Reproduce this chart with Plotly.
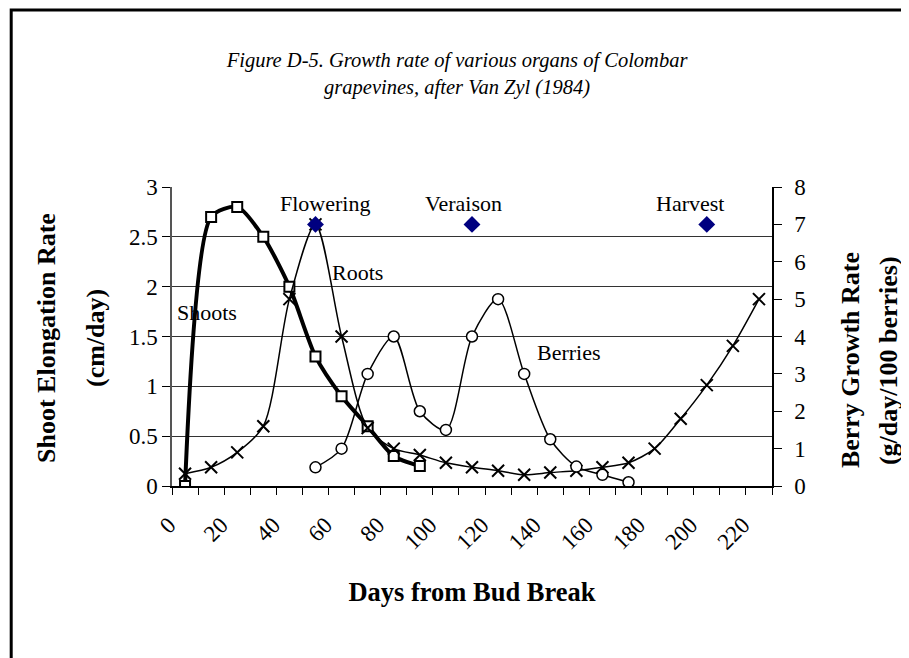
import plotly.graph_objects as go

# days from bud break (category axis, every 10 days)
days = list(range(0, 230, 10))
x_labels = [0, 20, 40, 60, 80, 100, 120, 140, 160, 180, 200, 220]

# shoot elongation rate (cm/day), left axis
shoot_days = [0, 10, 20, 30, 40, 50, 60, 70, 80, 90]
shoots = [0, 2.7, 2.8, 2.5, 2.0, 1.3, 0.9, 0.6, 0.3, 0.2]

# roots, right axis
roots = [0.33, 0.5, 0.9, 1.6, 5.0, 7.0, 4.0, 1.55, 1.0, 0.83, 0.62, 0.5, 0.41,
         0.3, 0.36, 0.41, 0.5, 0.62, 1.0, 1.8, 2.7, 3.75, 5.0]

# berry growth rate (g/day/100 berries), right axis
berry_days = [50, 60, 70, 80, 90, 100, 110, 120, 130, 140, 150, 160, 170]
berries = [0.5, 1.0, 3.0, 4.0, 2.0, 1.5, 4.0, 5.0, 3.0, 1.25, 0.52, 0.3, 0.1]

# phenology events
event_names = ["Flowering", "Veraison", "Harvest"]
event_days = [50, 110, 200]
event_vals = [7, 7, 7]
event_shift = [10, -9, -17]   # labels sit a little off the markers

# curve labels
curve_names = ["Shoots", "Roots", "Berries"]
curve_x = [8.5, 66, 147]
curve_y = [4.65, 5.7, 3.56]

FONT = "Times New Roman, Liberation Serif, serif"
XRANGE = [-5, 225]

fig = go.Figure()

fig.add_trace(go.Scatter(
    x=shoot_days, y=shoots, name="Shoots", mode="lines+markers",
    line=dict(color="black", width=4, shape="spline", smoothing=0.7),
    marker=dict(symbol="square", size=10, color="white",
                line=dict(color="black", width=2)),
))

fig.add_trace(go.Scatter(
    x=event_days, y=event_vals, name="Events", mode="markers",
    xaxis="x2", yaxis="y2",
    marker=dict(symbol="diamond", size=13, color="#000080"),
))

fig.add_trace(go.Scatter(
    x=days, y=roots, name="Roots", mode="lines+markers", yaxis="y2",
    line=dict(color="black", width=1.5, shape="spline", smoothing=0.8),
    marker=dict(symbol="x-thin", size=12, color="black",
                line=dict(color="black", width=2)),
))

fig.add_trace(go.Scatter(
    x=berry_days, y=berries, name="Berries", mode="lines+markers", yaxis="y2",
    line=dict(color="black", width=1.5, shape="spline", smoothing=0.8),
    marker=dict(symbol="circle", size=11, color="white",
                line=dict(color="black", width=1.5)),
))

for name, d, v, s in zip(event_names, event_days, event_vals, event_shift):
    fig.add_annotation(x=d, y=v, yref="y2", text=name, showarrow=False,
                       yshift=21, xshift=s,
                       font=dict(size=22, color="black", family=FONT))

for name, cx, cy in zip(curve_names, curve_x, curve_y):
    fig.add_annotation(x=cx, y=cy, yref="y2", text=name, showarrow=False,
                       font=dict(size=22, color="black", family=FONT))

# y axis titles (two lines each)
ytitles = [("<b>Shoot Elongation Rate</b>", -0.2083, 0.495),
           ("<b>(cm/day)</b>", -0.1267, 0.495),
           ("<b>Berry Growth Rate</b>", 1.13, 0.421),
           ("<b>(g/day/100 berries)</b>", 1.1933, 0.421)]
for t, ax, ay in ytitles:
    fig.add_annotation(xref="paper", yref="paper", x=ax, y=ay, textangle=-90,
                       xanchor="center", yanchor="middle",
                       text=t, showarrow=False, font=dict(size=26, family=FONT))

# outer chart border (cropped on right and bottom)
fig.add_shape(type="rect", xref="paper", yref="paper",
              x0=-0.268, x1=1.45, y0=-0.65, y1=1.592,
              line=dict(color="black", width=3))

# page body adds an 8px offset, so margins are shifted by that much
fig.update_layout(
    width=909, height=658,
    margin=dict(l=164, r=145, t=179, b=180, autoexpand=False),
    paper_bgcolor="white", plot_bgcolor="white",
    showlegend=False,
    font=dict(family=FONT, size=23, color="black"),
    title=dict(
        text="<i>Figure D-5. Growth rate of various organs of Colombar<br>grapevines, after Van Zyl (1984)</i>",
        x=0.494, xanchor="center", y=0.91, yanchor="middle",
        font=dict(size=20.5, family=FONT),
    ),
    # tick marks sit between categories
    xaxis=dict(
        range=XRANGE, tickmode="linear", tick0=-5, dtick=10,
        showticklabels=False,
        ticks="outside", ticklen=7, tickcolor="black", tickwidth=1.2,
        showline=True, linecolor="black", linewidth=1.5, showgrid=False,
        zeroline=False, automargin=False,
    ),
    # labels sit on the categories
    xaxis2=dict(
        range=XRANGE, overlaying="x", anchor="y", side="bottom",
        tickvals=x_labels, tickangle=-45, ticks="",
        showline=False, showgrid=False, zeroline=False, automargin=False,
        tickfont=dict(size=23), ticklabelstandoff=20, ticklabelshift=-16,
        title=dict(text="<b>Days from Bud Break</b>", font=dict(size=26.5), standoff=28),
    ),
    yaxis=dict(
        range=[0, 3], dtick=0.5, ticks="outside", ticklen=8, tickcolor="black",
        showline=True, linecolor="#555", linewidth=1.5, automargin=False,
        showgrid=True, gridcolor="#333", gridwidth=1, zeroline=False,
        tickfont=dict(size=23), ticklabelstandoff=0,
    ),
    yaxis2=dict(
        range=[0, 8], dtick=1, overlaying="y", side="right",
        ticks="outside", ticklen=8, tickcolor="black", automargin=False,
        showline=True, linecolor="black", linewidth=1.5,
        showgrid=False, zeroline=False, tickfont=dict(size=23),
        ticklabelstandoff=8,
    ),
)

fig.write_html("out.html")
